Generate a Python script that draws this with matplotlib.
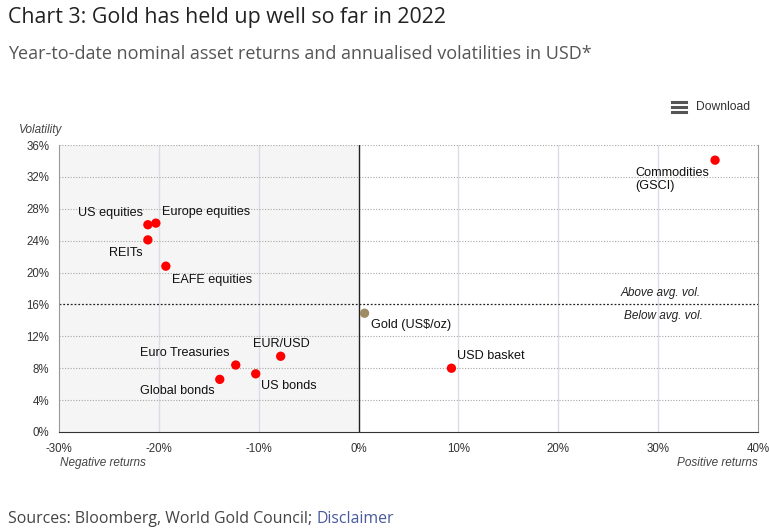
import matplotlib
matplotlib.use("Agg")
import matplotlib.pyplot as plt
from matplotlib.lines import Line2D

names = ["Commodities\n(GSCI)", "US equities", "Europe equities", "REITs", "EAFE equities",
         "Gold (US$/oz)", "Euro Treasuries", "EUR/USD", "US bonds", "Global bonds", "USD basket"]
returns = [35.7, -21.1, -20.3, -21.1, -19.3, 0.6, -12.3, -7.8, -10.3, -13.9, 9.3]
vols = [34.1, 26.0, 26.2, 24.1, 20.8, 14.9, 8.4, 9.5, 7.3, 6.6, 8.0]
colors = ["#ff0000", "#ff0000", "#ff0000", "#ff0000", "#ff0000", "#a08c62",
          "#ff0000", "#ff0000", "#ff0000", "#ff0000", "#ff0000"]
avg_vol = 16
x_ticks = [-30, -20, -10, 0, 10, 20, 30, 40]
y_ticks = [0, 4, 8, 12, 16, 20, 24, 28, 32, 36]

# label offsets in pixels (dx, dy, ha, va)
offsets = [(-80, -7, "left", "top"), (-5, 12, "right", "center"), (6, 11, "left", "center"),
           (-5, -13, "right", "center"), (6, -14, "left", "center"), (6, -12, "left", "center"),
           (-6, 12, "right", "center"), (1, 12, "center", "center"), (5, -12, "left", "center"),
           (-5, -12, "right", "center"), (6, 12, "left", "center")]

W, H = 769, 531
fig = plt.figure(figsize=(W / 100, H / 100), dpi=100)
L, R, T, B = 59, 758, 145, 432
ax = fig.add_axes([L / W, 1 - B / H, (R - L) / W, (B - T) / H])
ax.set_xlim(-30, 40)
ax.set_ylim(0, 36)

ax.axvspan(-30, 0, color="#f5f5f5", zorder=0)
for xt in x_ticks:
    if xt not in (-30, 0, 40):
        ax.axvline(xt, color="#dcdce6", lw=1, zorder=1)
for yt in y_ticks:
    if yt not in (0, avg_vol):
        ax.axhline(yt, color="#a8a8a8", lw=0.8, ls=(0, (1, 1.5)), zorder=1)
ax.axhline(avg_vol, color="#222222", lw=0.9, ls=(0, (1.5, 1.5)), zorder=2)
ax.axvline(0, color="#222222", lw=1, zorder=2)

ax.spines["top"].set_visible(False)
ax.spines["left"].set_color("#999999")
ax.spines["right"].set_color("#999999")
ax.spines["bottom"].set_color("#333333")

ax.set_xticks(x_ticks)
ax.set_xticklabels([f"{v}%" for v in x_ticks])
ax.set_yticks(y_ticks)
ax.set_yticklabels([f"{v}%" for v in y_ticks])
ax.tick_params(length=0, labelsize=8.3, colors="#333333")
ax.tick_params(axis="x", pad=8)
ax.tick_params(axis="y", pad=7)
for lab in ax.get_xticklabels() + ax.get_yticklabels():
    lab.set_family("Liberation Sans")

ax.scatter(returns, vols, s=45, c=colors, zorder=5, edgecolors="none")
for n, x, y, (dx, dy, ha, va) in zip(names, returns, vols, offsets):
    ax.annotate(n, (x, y), xytext=(dx, dy), textcoords="offset pixels", ha=ha, va=va,
                fontsize=9.1, family="Liberation Sans", color="#111111", zorder=6,
                linespacing=1.15)

fig.text(701 / W, 1 - 293 / H, "Above avg. vol.", ha="right", va="center", fontsize=8.5,
         style="italic", family="Liberation Sans", color="#222222")
fig.text(703 / W, 1 - 316 / H, "Below avg. vol.", ha="right", va="center", fontsize=8.5,
         style="italic", family="Liberation Sans", color="#222222")
fig.text(19 / W, 1 - 130 / H, "Volatility", ha="left", va="center", fontsize=8.5,
         style="italic", family="Liberation Sans", color="#444444")
fig.text(60 / W, 1 - 463 / H, "Negative returns", ha="left", va="center", fontsize=8.5,
         style="italic", family="Liberation Sans", color="#444444")
fig.text(758 / W, 1 - 463 / H, "Positive returns", ha="right", va="center", fontsize=8.5,
         style="italic", family="Liberation Sans", color="#444444")

fig.text(8 / W, 1 - 18 / H, "Chart 3: Gold has held up well so far in 2022", ha="left",
         va="center", fontsize=15.4, family="Open Sans", color="#222222")
fig.text(8 / W, 1 - 54 / H, "Year-to-date nominal asset returns and annualised volatilities in USD*",
         ha="left", va="center", fontsize=13, family="Open Sans", color="#555555")

# download icon
for yy in (102, 107, 112):
    fig.add_artist(Line2D([672 / W, 686 / W], [1 - yy / H, 1 - yy / H], color="#555555", lw=2.2))
fig.text(696 / W, 1 - 107 / H, "Download", ha="left", va="center", fontsize=8.7,
         family="Liberation Sans", color="#333333")

t1 = fig.text(8 / W, 1 - 519 / H, "Sources: Bloomberg, World Gold Council; ", ha="left",
              va="center", fontsize=11.4, family="Open Sans", color="#444444")
fig.canvas.draw()
bb = t1.get_window_extent()
fig.text(bb.x1 / W, 1 - 519 / H, "Disclaimer", ha="left", va="center", fontsize=11.4,
         family="Open Sans", color="#4a5a9a")

fig.savefig("out.png", dpi=100)
